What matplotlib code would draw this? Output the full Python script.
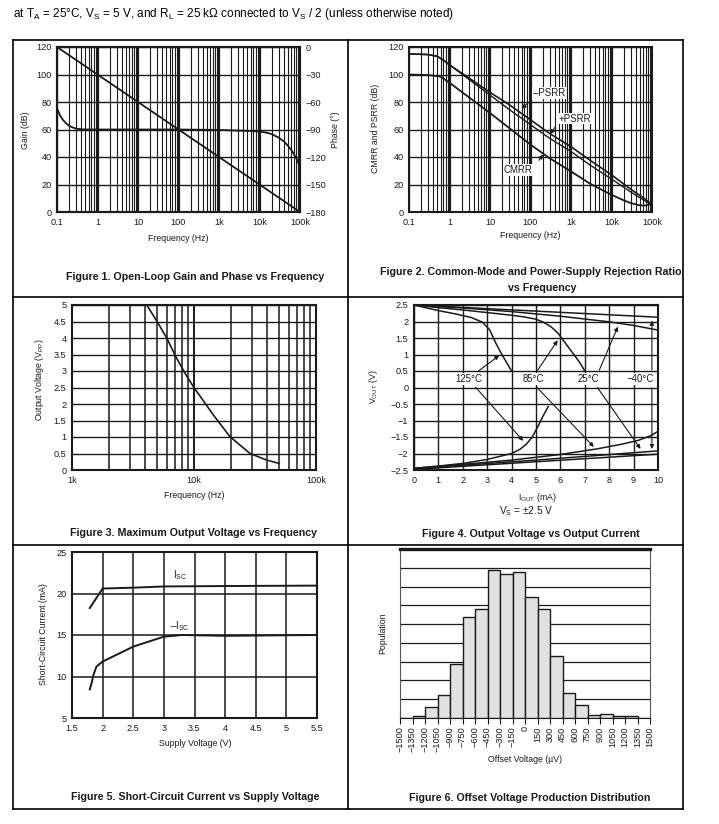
import matplotlib
matplotlib.use('Agg')
import matplotlib.pyplot as plt
from matplotlib.lines import Line2D

plt.rcParams['font.family'] = ['Liberation Sans', 'DejaVu Sans']
plt.rcParams['mathtext.fontset'] = 'custom'
plt.rcParams['mathtext.rm'] = 'Liberation Sans'
plt.rcParams['mathtext.it'] = 'Liberation Sans:italic'
plt.rcParams['mathtext.bf'] = 'Liberation Sans:bold'

W, H = 719, 824
INK = '#1a1a1a'
TICK_FS = 6.6
LAB_FS = 6.3
NOTE_FS = 6.9
CAP_FS = 7.7

# ---------------- data ----------------
# Figure 1: open-loop gain and phase
gain_freq = [0.1, 100000]
gain_db = [120, 0]
phase_freq = [0.1, 0.11, 0.12, 0.14, 0.17, 0.2, 0.25, 0.3, 0.4, 0.5, 1, 10, 100, 1000,
              5000, 10000, 15000, 20000, 30000, 40000, 50000, 60000, 70000, 80000, 90000, 100000]
phase_deg = [-67, -71, -75, -79.5, -83.5, -86, -88, -89, -89.7, -90, -90, -90, -90, -90.5,
             -91.5, -92.2, -93.5, -95, -99, -103, -107.5, -112, -116.5, -121, -126, -131]

# Figure 2: CMRR and PSRR
rr_freq = [0.1, 0.3, 0.5, 0.7, 1, 3, 10, 30, 100, 300, 1000, 3000, 10000, 30000, 60000, 100000]
neg_psrr = [115, 114.5, 113.2, 110.5, 107, 97.5, 87, 78, 67, 57, 47.5, 37.5, 27, 16.5, 10.5, 5.5]
pos_psrr = [115, 114.5, 113.2, 110.5, 107, 96.5, 85, 74.5, 63.5, 53.5, 44, 34, 24, 14.5, 9, 5]
cmrr_freq = [0.1, 0.3, 0.6, 1, 3, 10, 30, 100, 300, 1000, 3000, 10000, 20000, 30000, 50000, 70000, 100000]
cmrr_db = [100, 99.6, 98.5, 94, 83.5, 72, 61, 49, 39, 29.5, 20.5, 12.5, 8.5, 6.5, 4.8, 4.7, 6]

# Figure 3: maximum output voltage
vmax_freq = [1000, 4100, 5000, 6000, 7100, 8450, 9900, 14400, 19700, 28800, 39400, 50000]
vmax_vpp = [5, 5, 4.49, 3.99, 3.43, 2.93, 2.52, 1.67, 1.01, 0.5, 0.3, 0.2]

# Figure 4: output voltage vs output current (source, top; sink, bottom)
src_m40_i = [0, 10]
src_m40_v = [2.5, 2.13]
src_25_i = [0, 2, 4, 6, 8, 9, 10]
src_25_v = [2.5, 2.41, 2.3, 2.16, 1.99, 1.88, 1.74]
src_85_i = [0, 1, 2, 3, 4, 4.5, 5, 5.3, 5.6, 5.9, 6.2, 6.5, 6.8, 7.0]
src_85_v = [2.5, 2.42, 2.35, 2.27, 2.19, 2.14, 2.07, 1.98, 1.85, 1.65, 1.35, 1.05, 0.75, 0.5]
src_125_i = [0, 1, 1.7, 2.35, 2.8, 3.1, 3.35, 3.6, 3.8, 4.0]
src_125_v = [2.5, 2.33, 2.23, 2.12, 1.98, 1.75, 1.35, 1.0, 0.75, 0.5]
snk_125_i = [0, 1, 2, 3, 4, 4.35, 4.6, 4.85, 5.1, 5.3, 5.5]
snk_125_v = [-2.45, -2.38, -2.3, -2.18, -2.0, -1.87, -1.72, -1.5, -1.15, -0.85, -0.58]
snk_85_i = [0, 2, 4, 6, 7.5, 8.5, 9.2, 9.7, 10]
snk_85_v = [-2.45, -2.33, -2.2, -2.03, -1.86, -1.72, -1.6, -1.46, -1.33]
snk_25_i = [0, 5, 10]
snk_25_v = [-2.46, -2.2, -1.92]
snk_m40_i = [0, 10]
snk_m40_v = [-2.48, -2.02]
temp_labels = ['125°C', '85°C', '25°C', '\u221240°C']
temp_label_i = [2.24, 4.88, 7.16, 9.29]
arrow_up = [((2.55, 0.45), (3.58, 1.02)), ((5.0, 0.45), (5.95, 1.5)),
            ((7.55, 0.45), (8.4, 1.92)), ((9.75, 0.45), (9.75, 2.11))]
arrow_dn = [((2.45, 0.07), (4.55, -1.68)), ((4.95, 0.07), (7.45, -1.86)),
            ((7.45, 0.07), (9.35, -1.93)), ((9.75, 0.07), (9.75, -1.95))]

# Figure 5: short-circuit current
isc_vs = [1.79, 2.0, 2.5, 3.0, 4.0, 5.5]
isc_ma = [18.25, 20.6, 20.7, 20.85, 20.9, 20.95]
nisc_vs = [1.79, 1.82, 1.85, 1.9, 2.0, 2.5, 3.0, 3.3, 4.0, 5.5]
nisc_ma = [8.45, 9.2, 10.2, 11.2, 11.8, 13.6, 14.8, 15.0, 14.9, 15.0]

# Figure 6: offset voltage histogram
bin_left = [-1500, -1350, -1200, -1050, -900, -750, -600, -450, -300, -150,
            0, 150, 300, 450, 600, 750, 900, 1050, 1200, 1350]
bin_count = [0, 0.09, 0.58, 1.2, 2.9, 5.4, 5.8, 7.9, 7.67, 7.78,
             6.42, 5.8, 3.28, 1.32, 0.69, 0.18, 0.19, 0.09, 0.09, 0]
vos_ticks = list(range(-1500, 1501, 150))


# ---------------- helpers ----------------
def add_ax(l, t, r, b):
    return fig.add_axes([l / W, 1 - b / H, (r - l) / W, (b - t) / H])


def ftext(x, y, s, **kw):
    kw.setdefault('ha', 'center')
    kw.setdefault('va', 'center')
    kw.setdefault('color', INK)
    fig.text(x / W, 1 - y / H, s, **kw)


def hline(x1, x2, y):
    fig.add_artist(Line2D([x1 / W, x2 / W], [1 - y / H, 1 - y / H],
                          transform=fig.transFigure, color='black', lw=1.2))


def vline(x, y1, y2):
    fig.add_artist(Line2D([x / W, x / W], [1 - y1 / H, 1 - y2 / H],
                          transform=fig.transFigure, color='black', lw=1.2))


def style(ax, spine_lw=1.5):
    for s in ax.spines.values():
        s.set_linewidth(spine_lw)
        s.set_color(INK)
    ax.tick_params(which='both', length=0, labelsize=TICK_FS, colors=INK, pad=4)
    ax.set_axisbelow(True)


def freq_axis(ax, lo, hi):
    ax.set_xscale('log')
    ax.set_xlim(lo, hi)
    names = {0.1: '0.1', 1: '1', 10: '10', 100: '100', 1000: '1k', 10000: '10k', 100000: '100k'}
    ticks = [t for t in names if lo <= t <= hi]
    ax.set_xticks(ticks)
    ax.set_xticklabels([names[t] for t in ticks])
    ax.grid(which='major', axis='x', color=INK, lw=1.6)
    ax.grid(which='minor', axis='x', color=INK, lw=0.8)


def minus(v):
    s = ('%g' % v)
    return s.replace('-', '\u2212')


fig = plt.figure(figsize=(W / 100, H / 100), dpi=100)
fig.patch.set_facecolor('white')

# page header and frame
ftext(13, 14, 'at T$_\\mathregular{A}$ = 25°C, V$_\\mathregular{S}$ = 5 V, and R$_\\mathregular{L}$ = 25 k\u03a9 '
      'connected to V$_\\mathregular{S}$ / 2 (unless otherwise noted)', ha='left', fontsize=8.5, color='black')
hline(13, 683, 40)
hline(13, 683, 297)
hline(13, 683, 545)
hline(13, 683, 809)
vline(13, 40, 809)
vline(348, 40, 809)
vline(683, 40, 809)

# ---------------- Figure 1 ----------------
ax1 = add_ax(57, 47, 300, 212)
style(ax1)
freq_axis(ax1, 0.1, 100000)
ax1.set_ylim(0, 120)
ax1.set_yticks(range(0, 121, 20))
ax1.grid(axis='y', color=INK, lw=1.0)
ax1.plot(gain_freq, gain_db, color=INK, lw=1.3)
ax1b = ax1.twinx()
ax1b.set_ylim(-180, 0)
ax1b.set_yticks(range(-180, 1, 30))
ax1b.set_yticklabels([minus(v) for v in range(-180, 1, 30)])
style(ax1b)
ax1b.plot(phase_freq, phase_deg, color=INK, lw=1.3)
ftext(25, 130, 'Gain (dB)', rotation=90, fontsize=LAB_FS)
ftext(336, 130, 'Phase (°)', rotation=90, fontsize=LAB_FS)
ftext(178, 239, 'Frequency (Hz)', fontsize=LAB_FS)
ftext(195, 277, 'Figure 1. Open-Loop Gain and Phase vs Frequency', fontsize=CAP_FS, fontweight='bold')

# ---------------- Figure 2 ----------------
ax2 = add_ax(409, 47, 652, 212)
style(ax2)
freq_axis(ax2, 0.1, 100000)
ax2.set_ylim(0, 120)
ax2.set_yticks(range(0, 121, 20))
ax2.grid(axis='y', color=INK, lw=1.0)
ax2.plot(rr_freq, neg_psrr, color=INK, lw=1.2)
ax2.plot(rr_freq, pos_psrr, color=INK, lw=1.0)
ax2.plot(cmrr_freq, cmrr_db, color=INK, lw=1.3)
bb = dict(facecolor='white', edgecolor='none', pad=0.6)
arw = dict(arrowstyle='-|>', color=INK, lw=0.8, mutation_scale=6)
ax2.text(287, 86.3, '\u2013PSRR', fontsize=NOTE_FS, ha='center', va='center', bbox=bb, color=INK)
ax2.annotate('', xy=(54, 73.7), xytext=(100, 81), arrowprops=arw)
ax2.text(1260, 68, '+PSRR', fontsize=NOTE_FS, ha='center', va='center', bbox=bb, color=INK)
ax2.annotate('', xy=(280, 55), xytext=(460, 64), arrowprops=arw)
ax2.text(49, 30.5, 'CMRR', fontsize=NOTE_FS, ha='center', va='center', bbox=bb, color=INK)
ax2.annotate('', xy=(222, 43.5), xytext=(148, 36), arrowprops=arw)
ftext(375, 128, 'CMRR and PSRR (dB)', rotation=90, fontsize=LAB_FS)
ftext(530, 236, 'Frequency (Hz)', fontsize=LAB_FS)
ftext(531, 272, 'Figure 2. Common-Mode and Power-Supply Rejection Ratio', fontsize=CAP_FS, fontweight='bold')
ftext(542, 288, 'vs Frequency', fontsize=CAP_FS, fontweight='bold')

# ---------------- Figure 3 ----------------
ax3 = add_ax(72, 305, 316, 470)
style(ax3)
freq_axis(ax3, 1000, 100000)
ax3.grid(which='major', axis='x', color=INK, lw=1.4)
ax3.grid(which='minor', axis='x', color=INK, lw=1.1)
ax3.set_ylim(0, 5)
yt3 = [0, 0.5, 1, 1.5, 2, 2.5, 3, 3.5, 4, 4.5, 5]
ax3.set_yticks(yt3)
ax3.set_yticklabels(['%g' % v for v in yt3])
ax3.grid(axis='y', color=INK, lw=1.0)
ax3.plot(vmax_freq, vmax_vpp, color=INK, lw=1.2)
ftext(40, 380, 'Output Voltage (V$_\\mathregular{PP}$)', rotation=90, fontsize=LAB_FS)
ftext(194, 496, 'Frequency (Hz)', fontsize=LAB_FS)
ftext(194, 533, 'Figure 3. Maximum Output Voltage vs Frequency', fontsize=CAP_FS, fontweight='bold')

# ---------------- Figure 4 ----------------
ax4 = add_ax(414, 305, 658, 470)
style(ax4)
ax4.set_xlim(0, 10)
ax4.set_ylim(-2.5, 2.5)
ax4.set_xticks(range(0, 11))
yt4 = [-2.5, -2, -1.5, -1, -0.5, 0, 0.5, 1, 1.5, 2, 2.5]
ax4.set_yticks(yt4)
ax4.set_yticklabels([minus(v) for v in yt4])
ax4.grid(color=INK, lw=1.0)
for xs, ys in [(src_m40_i, src_m40_v), (src_25_i, src_25_v), (src_85_i, src_85_v),
               (src_125_i, src_125_v), (snk_125_i, snk_125_v), (snk_85_i, snk_85_v),
               (snk_25_i, snk_25_v), (snk_m40_i, snk_m40_v)]:
    ax4.plot(xs, ys, color=INK, lw=1.1, clip_on=False)
for lab, xi in zip(temp_labels, temp_label_i):
    ax4.text(xi, 0.26, lab, fontsize=NOTE_FS, ha='center', va='center', bbox=bb, color=INK)
for tail, head in arrow_up + arrow_dn:
    ax4.annotate('', xy=head, xytext=tail, arrowprops=arw)
ftext(373, 387, 'V$_\\mathregular{OUT}$ (V)', rotation=90, fontsize=LAB_FS)
ftext(537, 497, 'I$_\\mathregular{OUT}$ (mA)', fontsize=LAB_FS)
ftext(526, 511, 'V$_\\mathregular{S}$ = \u00b12.5 V', fontsize=7.3)
ftext(531, 534, 'Figure 4. Output Voltage vs Output Current', fontsize=CAP_FS, fontweight='bold')

# ---------------- Figure 5 ----------------
ax5 = add_ax(72, 552, 317, 718)
style(ax5)
ax5.set_xlim(1.5, 5.5)
ax5.set_ylim(5, 25)
xt5 = [1.5, 2, 2.5, 3, 3.5, 4, 4.5, 5, 5.5]
ax5.set_xticks(xt5)
ax5.set_xticklabels(['%g' % v for v in xt5])
ax5.set_yticks([5, 10, 15, 20, 25])
ax5.grid(color=INK, lw=1.1)
ax5.plot(isc_vs, isc_ma, color=INK, lw=1.4)
ax5.plot(nisc_vs, nisc_ma, color=INK, lw=1.4)
ax5.text(3.26, 22.2, 'I$_\\mathregular{SC}$', fontsize=NOTE_FS, ha='center', va='center', color=INK)
ax5.text(3.25, 16.1, '\u2013I$_\\mathregular{SC}$', fontsize=NOTE_FS, ha='center', va='center', color=INK)
ftext(43, 634, 'Short-Circuit Current (mA)', rotation=90, fontsize=LAB_FS)
ftext(195, 744, 'Supply Voltage (V)', fontsize=LAB_FS)
ftext(195, 797, 'Figure 5. Short-Circuit Current vs Supply Voltage', fontsize=CAP_FS, fontweight='bold')

# ---------------- Figure 6 ----------------
ax6 = add_ax(400, 549, 650, 718)
ax6.bar(bin_left, bin_count, width=150, align='edge', color='#e1e1e1', edgecolor=INK, lw=1.0, zorder=3)
ax6.set_xlim(-1500, 1500)
ax6.set_ylim(0, 9)
ax6.set_yticks(range(1, 9))
ax6.set_yticklabels([])
ax6.grid(axis='y', color=INK, lw=0.9)
ax6.set_axisbelow(True)
ax6.tick_params(axis='y', length=0)
ax6.set_xticks(vos_ticks)
ax6.set_xticklabels([minus(v) for v in vos_ticks], rotation=90, fontsize=TICK_FS, color=INK)
ax6.tick_params(axis='x', direction='out', length=4, width=0.8, colors=INK, pad=2)
ax6.spines['top'].set_linewidth(2.4)
ax6.spines['top'].set_color(INK)
for s in ['left', 'right']:
    ax6.spines[s].set_linewidth(0.8)
    ax6.spines[s].set_color('#555555')
ax6.spines['bottom'].set_linewidth(0.8)
ax6.spines['bottom'].set_color(INK)
ftext(383, 633, 'Population', rotation=90, fontsize=LAB_FS)
ftext(525, 760, 'Offset Voltage (\u00b5V)', fontsize=LAB_FS)
ftext(530, 798, 'Figure 6. Offset Voltage Production Distribution', fontsize=CAP_FS, fontweight='bold')

fig.savefig('out.png', dpi=100, facecolor='white')
